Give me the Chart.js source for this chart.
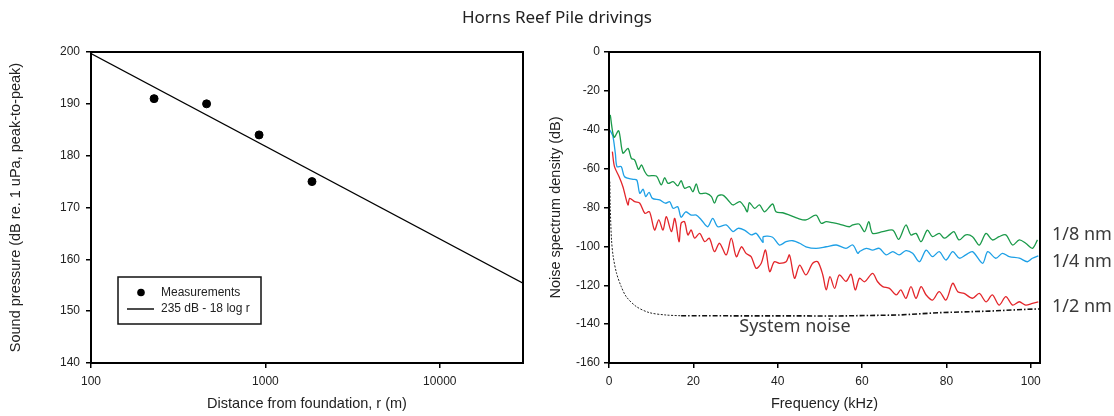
<!DOCTYPE html>
<html>
<head>
<meta charset="utf-8">
<script src="https://cdn.jsdelivr.net/npm/chart.js@4.4.1/dist/chart.umd.min.js"></script>
<style>
  body { margin: 0; background: #fff; }
  #wrap { position: relative; width: 1114px; height: 416px; }
  #title { position: absolute; top: 5px; left: 0; width: 1114px; text-align: center;
           font: 17px 'Noto Sans'; color: #222; }
  #left { position: absolute; left: 0; top: 0; }
  #right { position: absolute; left: 535px; top: 0; }
</style>
</head>
<body>
<div id="wrap">
  <canvas id="left" width="535" height="416"></canvas>
  <canvas id="right" width="579" height="416"></canvas>
  <div id="title">Horns Reef Pile drivings</div>
</div>
<script>
// --- Left panel: peak-to-peak pressure vs distance ---
const distanceM = [230, 460, 920, 1850];
const pressureDb = [191, 190, 184, 175];
const fitR = [100, 30000];
const fitDb = [199.7, 155.4];
const distTicks = [100, 1000, 10000];
const pressureTicks = [140, 150, 160, 170, 180, 190, 200];

// --- Right panel: noise spectra [kHz, dB] ---
const green = [[0.3,-32.4],[1.2,-43.9],[2.3,-40.5],[3.3,-52],[4.5,-49.6],[5.3,-54.7],[6.1,-55.6],[7.0,-60.4],
  [7.7,-58.1],[8.5,-61.6],[9.2,-63.6],[11.2,-63.8],[12.4,-68.4],[13.2,-64.7],[14.0,-67.6],[15.2,-66.7],
  [16.3,-68.9],[17.1,-66.2],[17.9,-70.1],[19.1,-69.3],[19.9,-71.9],[20.7,-67.9],[21.5,-72.7],[23.1,-72.7],
  [24.3,-74.4],[25.0,-77.8],[25.8,-74.1],[27.0,-73.6],[28.2,-76.1],[29.4,-78.7],[31.0,-77],[32.1,-79.6],
  [32.8,-82.2],[33.3,-77.5],[34.5,-80.4],[35.7,-78.7],[36.9,-82.2],[38.8,-78.2],[39.6,-82.2],[41.2,-82.7],
  [42.8,-83.9],[44.8,-85.6],[46.7,-86.4],[49.1,-83.9],[50.3,-88.1],[51.5,-87.3],[53.0,-87.8],[54.6,-88.5],
  [57.0,-89.9],[57.8,-89],[59.3,-88.5],[60.6,-92.4],[61.6,-87.3],[62.5,-93.3],[64.9,-92.4],[67.3,-91.6],
  [68.7,-96.4],[70.4,-89],[71.6,-94.1],[72.8,-93.3],[74.0,-97.6],[75.5,-91.6],[76.7,-95],[78.3,-93.3],
  [79.5,-95.8],[80.7,-94.1],[81.8,-92.4],[83.0,-96.7],[84.6,-94.1],[86.2,-95],[87.8,-99.3],[89.4,-93.3],
  [90.9,-96.7],[92.5,-95],[94.1,-94.1],[95.7,-99.3],[97.3,-96.7],[98.8,-98.4],[100.4,-101],[101.6,-96.7]];

const blue = [[0.2,-40.1],[0.9,-43.2],[1.5,-52.1],[1.9,-59],[2.9,-59],[3.7,-64.2],[5.7,-65.5],[6.6,-65.9],
  [7.3,-72.7],[8.1,-70.6],[8.7,-74.4],[9.5,-72.2],[10.3,-75.3],[12.0,-76.1],[13.4,-77.8],[14.4,-77],
  [15.2,-80.4],[16.3,-79.6],[17.1,-85],[18.2,-82.2],[19.5,-83.9],[20.7,-83.9],[21.9,-86.4],[23.4,-89.9],
  [24.6,-85.6],[25.8,-89.9],[27.8,-89],[29.4,-92.4],[30.6,-90.7],[32.1,-91.6],[33.7,-94.1],[34.9,-93.3],
  [36.5,-97.9],[36.6,-95],[38.8,-95.3],[40.4,-99.3],[42.0,-97.6],[43.6,-97.1],[45.2,-98.4],[46.7,-100.2],
  [49.1,-101],[51.5,-100.2],[53.9,-99.3],[56.2,-101],[57.8,-99.3],[59.0,-103.6],[59.4,-102.7],[61.0,-101],
  [62.5,-101.9],[64.1,-101],[65.7,-104.4],[67.3,-102.7],[68.8,-104.4],[70.4,-102.2],[72.0,-103.6],[73.6,-107.9],
  [75.2,-101.9],[76.7,-105.3],[78.3,-102.7],[79.9,-107],[81.5,-102.7],[83.1,-106.1],[84.6,-104.4],[86.2,-102.7],
  [88.6,-108.7],[89.8,-102.7],[91.7,-106.1],[93.3,-103.6],[94.9,-105.3],[97.3,-106.1],[99.2,-107.9],
  [100.4,-106.1],[101.8,-104.9]];

const red = [[0.8,-51.3],[1.3,-59],[2.4,-64.2],[3.3,-69.3],[4.5,-78.7],[4.9,-75.3],[6.1,-77],[7.3,-77.8],
  [8.5,-83],[9.6,-82.2],[10.8,-91.6],[11.8,-86.4],[12.8,-91.6],[13.6,-84.7],[14.8,-92.4],[15.6,-85.6],
  [16.6,-97.6],[17.1,-88.1],[17.9,-87.3],[18.7,-94.1],[19.5,-91.6],[20.3,-95.8],[21.5,-93.3],[22.7,-97.6],
  [23.8,-95.8],[25.0,-102.7],[26.2,-98.4],[27.8,-104.4],[29.0,-95.8],[30.2,-105.3],[31.4,-100.2],[32.5,-103.6],
  [33.7,-105.3],[34.9,-111.3],[36.1,-108.7],[37.1,-101.9],[38.1,-113],[39.2,-107.9],[40.4,-108.7],[42.0,-107.9],
  [42.8,-104.4],[44.0,-116.4],[45.2,-109.6],[46.7,-114.7],[48.3,-108.7],[49.5,-107.9],[50.7,-114.7],[51.5,-122.4],
  [52.4,-115.6],[53.5,-121.6],[54.6,-114.7],[56.2,-118],[57.4,-114.3],[58.4,-122.4],[59.4,-116.4],[60.6,-118.2],
  [62.5,-113.9],[63.7,-118.2],[64.9,-120.7],[66.5,-121.6],[68.1,-125],[69.2,-122.4],[70.4,-126.7],[71.6,-120.7],
  [72.8,-126.7],[74.0,-120.7],[75.2,-125],[76.7,-127.6],[78.3,-123.3],[79.9,-127.6],[81.5,-119],[82.7,-123.3],
  [84.2,-124.2],[86.2,-126.7],[87.8,-124.2],[89.4,-128.5],[90.9,-125],[92.5,-130.2],[94.1,-125.9],[95.7,-130.2],
  [97.3,-128.5],[98.8,-130.2],[100.4,-129.3],[101.8,-128.5]];

const noiseLow = [[0.2,-66.7],[0.3,-80],[0.6,-96.7],[1.0,-105.3],[1.8,-113.9],[2.9,-120.7],[4.1,-125.9],
  [6.5,-131],[9.6,-134.1],[13.5,-135.3],[17.1,-135.7]];
const noiseHigh = [[17.1,-135.7],[54.6,-135.8],[68.8,-135.3],[78.3,-134.1],[90.2,-133.3],[98.9,-132.4],[102,-132.2]];

const freqTicks = [0, 20, 40, 60, 80, 100];
const densityTicks = [-160, -140, -120, -100, -80, -60, -40, -20, 0];
const curveLabels = [
  { text: '1/8 nm', y: -94.2 },
  { text: '1/4 nm', y: -107.9 },
  { text: '1/2 nm', y: -131 }
];

Chart.defaults.font.family = "'Liberation Sans', Arial, sans-serif";
Chart.defaults.color = '#222';

const toXY = pts => pts.map(([x, y]) => ({ x, y }));

// Draws the full box round the plot area
const framePlugin = {
  id: 'frame',
  afterDraw(chart) {
    const { ctx, chartArea: a } = chart;
    ctx.save();
    ctx.strokeStyle = '#000';
    ctx.lineWidth = 2;
    ctx.strokeRect(a.left, a.top, a.right - a.left, a.bottom - a.top);
    ctx.restore();
  }
};

function axis(opts) {
  return {
    type: opts.type || 'linear',
    min: opts.min,
    max: opts.max,
    afterBuildTicks: s => { s.ticks = opts.ticks.map(v => ({ value: v })); },
    afterFit: s => { if (opts.width) s.width = opts.width; if (opts.height) s.height = opts.height; },
    ticks: { font: { size: 12 }, color: '#222', padding: opts.pad, autoSkip: false, maxRotation: 0,
             callback: v => String(v) },
    grid: { drawOnChartArea: false, drawTicks: true, tickLength: 5, color: '#000', lineWidth: 1.5 },
    border: { color: '#000', width: 2 },
    title: { display: true, text: opts.title, font: { size: 14.5 }, color: '#222', padding: opts.titlePad }
  };
}

// Legend box inside the left plot
const legendPlugin = {
  id: 'boxLegend',
  afterDraw(chart) {
    const { ctx, chartArea: a } = chart;
    const x0 = a.left + 27, y0 = a.top + 225;
    ctx.save();
    ctx.fillStyle = '#fff';
    ctx.fillRect(x0, y0, 143, 47);
    ctx.strokeStyle = '#111';
    ctx.lineWidth = 1.5;
    ctx.strokeRect(x0, y0, 143, 47);
    ctx.fillStyle = '#000';
    ctx.beginPath();
    ctx.arc(x0 + 23, y0 + 15.5, 3.8, 0, Math.PI * 2);
    ctx.fill();
    ctx.beginPath();
    ctx.moveTo(x0 + 9, y0 + 32);
    ctx.lineTo(x0 + 36, y0 + 32);
    ctx.lineWidth = 1.5;
    ctx.stroke();
    ctx.fillStyle = '#222';
    ctx.font = "12px 'Liberation Sans'";
    ctx.textBaseline = 'middle';
    ctx.fillText('Measurements', x0 + 43, y0 + 16);
    ctx.fillText('235 dB - 18 log r', x0 + 43, y0 + 32);
    ctx.restore();
  }
};

new Chart(document.getElementById('left'), {
  type: 'scatter',
  data: {
    datasets: [
      { label: 'Measurements', data: distanceM.map((r, i) => ({ x: r, y: pressureDb[i] })),
        pointRadius: 4, backgroundColor: '#000', borderColor: '#000', showLine: false },
      { label: '235 dB - 18 log r', type: 'line', data: fitR.map((r, i) => ({ x: r, y: fitDb[i] })),
        borderColor: '#000', borderWidth: 1.2, pointRadius: 0, fill: false }
    ]
  },
  options: {
    responsive: false,
    animation: false,
    layout: { padding: { left: 0, right: 12, top: 52, bottom: 0 } },
    plugins: { legend: { display: false }, tooltip: { enabled: false } },
    scales: {
      x: axis({ type: 'logarithmic', min: 100, max: 30000, ticks: distTicks, height: 53, pad: 6,
                title: 'Distance from foundation, r (m)', titlePad: { top: 0, bottom: 3 } }),
      y: axis({ min: 140, max: 200, ticks: pressureTicks, width: 91, pad: 6,
                title: 'Sound pressure (dB re. 1 uPa, peak-to-peak)', titlePad: { top: 7, bottom: 0 } })
    }
  },
  plugins: [framePlugin, legendPlugin]
});

// Text labels beside the right plot
const curveLabelPlugin = {
  id: 'curveLabels',
  afterDraw(chart) {
    const { ctx, chartArea: a, scales } = chart;
    ctx.save();
    ctx.fillStyle = '#3a3a3a';
    ctx.font = "18px 'Noto Sans'";
    ctx.textBaseline = 'middle';
    curveLabels.forEach(l => ctx.fillText(l.text, a.right + 12, scales.y.getPixelForValue(l.y)));
    ctx.fillText('System noise', scales.x.getPixelForValue(30.9), scales.y.getPixelForValue(-141.3));
    ctx.restore();
  }
};

const curve = (label, pts, color) => ({
  label, data: toXY(pts), borderColor: color, borderWidth: 1.3, pointRadius: 0, tension: 0.3, fill: false
});

new Chart(document.getElementById('right'), {
  type: 'line',
  data: {
    datasets: [
      curve('1/8 nm', green, '#1b9a4a'),
      curve('1/4 nm', blue, '#1ea0e6'),
      curve('1/2 nm', red, '#e3262b'),
      { label: 'System noise', data: toXY(noiseLow), borderColor: '#222', borderWidth: 1,
        borderDash: [2, 1.5], pointRadius: 0, tension: 0.3 },
      { label: 'System noise ', data: toXY(noiseHigh), borderColor: '#111', borderWidth: 1.6,
        borderDash: [5, 2, 1.5, 2], pointRadius: 0, tension: 0 }
    ]
  },
  options: {
    responsive: false,
    animation: false,
    layout: { padding: { left: 0, right: 74, top: 52, bottom: 0 } },
    plugins: { legend: { display: false }, tooltip: { enabled: false } },
    scales: {
      x: axis({ min: 0, max: 102.2, ticks: freqTicks, height: 53, pad: 6,
                title: 'Frequency (kHz)', titlePad: { top: 0, bottom: 3 } }),
      y: axis({ min: -160, max: 0, ticks: densityTicks, width: 74, pad: 4,
                title: 'Noise spectrum density (dB)', titlePad: { top: 12, bottom: 0 } })
    }
  },
  plugins: [framePlugin, curveLabelPlugin]
});
</script>
</body>
</html>
